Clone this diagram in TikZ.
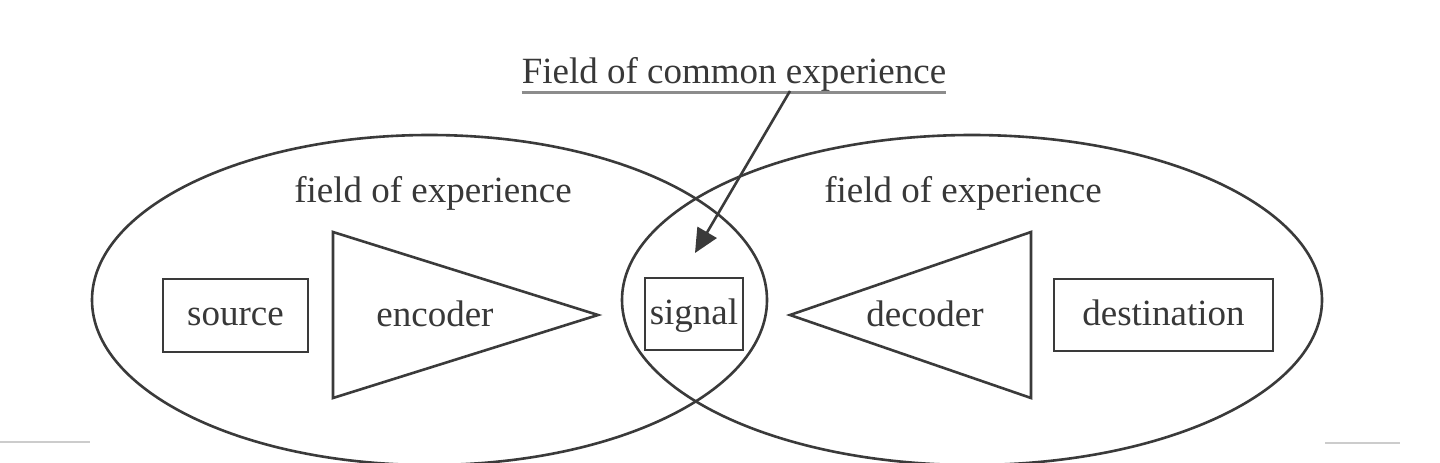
\documentclass[tikz,border=0pt]{standalone}
\usepackage{fontspec}
\setmainfont{Liberation Serif}
\usetikzlibrary{arrows.meta}
\definecolor{ink}{HTML}{3A3A3A}
\definecolor{txt}{HTML}{383838}
\tikzset{
  line/.style={draw=ink, line width=2.6pt},
  lbl/.style={text=txt, font=\fontsize{37}{44}\selectfont, inner sep=0pt},
  boxnode/.style={line, lbl, inner sep=0pt, text height=23pt, text depth=3pt},
  faint/.style={draw=black!20, line width=1.5pt}
}
\begin{document}
\begin{tikzpicture}[x=1pt,y=-1pt]
\useasboundingbox (0,0) rectangle (1440,463);
\clip (0,0) rectangle (1440,463);
\fill[white] (0,0) rectangle (1440,463);
% faint background lines
\coordinate (bl1) at (0,442); \coordinate (bl2) at (90,442);
\coordinate (br1) at (1325,443); \coordinate (br2) at (1400,443);
\draw[faint] (bl1) -- (bl2);
\draw[faint] (br1) -- (br2);
% ellipses
\draw[line] (429.5,300) ellipse [x radius=337.5, y radius=165];
\draw[line] (972,300) ellipse [x radius=350, y radius=165];
% title
\node[lbl] (title) at (734,74) {Field of common experience};
\draw[draw=black!45, line width=3pt] (title.south west |- 0,92) -- (title.south east |- 0,92);
\node[lbl] (fl) at (433,193) {field of experience};
\node[lbl] (fr) at (963,193) {field of experience};
% boxes
\node[boxnode, minimum width=145, minimum height=73] (source) at (235.5,315.5) {source};
\node[boxnode, minimum width=98, minimum height=72] (signal) at (694,314) {signal};
\node[boxnode, minimum width=219, minimum height=72] (dest) at (1163.5,315) {destination};
% encoder triangle
\coordinate (e1) at (333,232); \coordinate (e2) at (333,398); \coordinate (e3) at (598,315);
\draw[line, line join=miter] (e1) -- (e3) -- (e2) -- cycle;
\node[lbl] (enc) at (435,314) {encoder};
% decoder triangle
\coordinate (d1) at (1031,232); \coordinate (d2) at (1031,398); \coordinate (d3) at (790,315);
\draw[line, line join=miter] (d1) -- (d3) -- (d2) -- cycle;
\node[lbl] (dec) at (925,314) {decoder};
% arrow
\coordinate (as) at (790,91);
\coordinate (at) at (695,253);
\draw[line, -{Triangle[length=24pt,width=22pt]}] (as) -- (at);
\end{tikzpicture}
\end{document}
